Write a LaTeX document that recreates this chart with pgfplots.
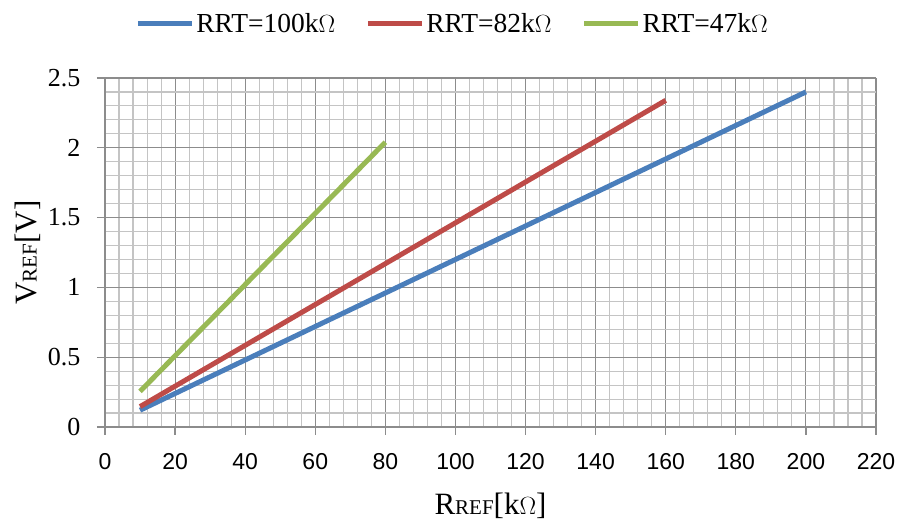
\documentclass[border=0pt]{standalone}
\usepackage{pgfplots}
\pgfplotsset{compat=1.18}
\usepackage{fontspec}
\setmainfont{Liberation Serif}
\setsansfont{Liberation Sans}
\definecolor{cblue}{HTML}{4A7EBB}
\definecolor{cred}{HTML}{BE4B48}
\definecolor{cgreen}{HTML}{98B954}
\definecolor{majgrid}{HTML}{8C8C8C}
\definecolor{mingrid}{HTML}{C4C4C4}
\begin{document}
\begin{tikzpicture}[x=1pt,y=1pt]
\useasboundingbox (0,0) rectangle (897,521);
\begin{axis}[
  at={(105pt,94pt)}, anchor=south west,
  scale only axis, width=771pt, height=349pt,
  xmin=0, xmax=220, ymin=0, ymax=2.5,
  xtick={0,20,...,220}, ytick={0,0.5,1,1.5,2,2.5},
  minor x tick num=4, minor y tick num=4,
  grid=both,
  major grid style={draw=majgrid, line width=1.1pt},
  minor grid style={draw=mingrid, line width=1.1pt},
  axis lines=left, axis line style={-, draw=majgrid, line width=1.3pt},
  tick align=outside, major tick length=8pt, minor tick length=0pt,
  tick style={draw=majgrid, line width=1.3pt},
  /pgf/number format/assume math mode=true,
  xticklabel style={font=\sffamily\fontsize{23}{23}\selectfont, yshift=-15pt},
  yticklabel style={font=\fontsize{26}{26}\selectfont, xshift=-13pt},
  ylabel={V{\fontsize{21}{21}\selectfont REF}[V]},
  ylabel style={font=\fontsize{31}{31}\selectfont, at={(axis description cs:-0.0999,0.5)}, anchor=center},
  xlabel={R{\fontsize{21}{21}\selectfont REF}[k$\Omega$]},
  xlabel style={font=\fontsize{31}{31}\selectfont, at={(axis description cs:0.5,-0.225)}, anchor=center},
  legend columns=3,
  legend style={at={(axis description cs:0.4508,1.155)}, anchor=center, draw=none, fill=none,
    font=\fontsize{27.5}{27.5}\selectfont, inner sep=0pt,
    /tikz/every even column/.append style={column sep=28pt}},
  legend image code/.code={\draw[#1] (0pt,0pt) -- (54pt,0pt);},
  every axis plot/.append style={line width=5pt},
]
\addplot[cblue] coordinates {(10,0.12) (200,2.40)};
\addlegendentry{RRT=100k$\Omega$}
\addplot[cred] coordinates {(10,0.146) (160,2.34)};
\addlegendentry{RRT=82k$\Omega$}
\addplot[cgreen] coordinates {(10,0.255) (80,2.04)};
\addlegendentry{RRT=47k$\Omega$}
\end{axis}
\end{tikzpicture}
\end{document}
